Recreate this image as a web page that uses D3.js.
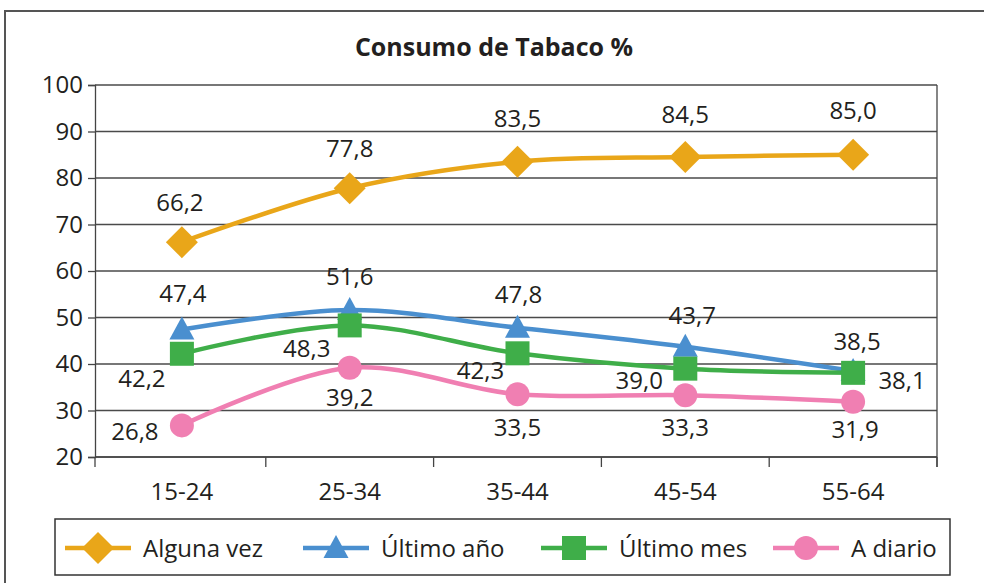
<!DOCTYPE html>
<html>
<head>
<meta charset="utf-8">
<script src="https://cdn.jsdelivr.net/npm/d3@7"></script>
<style>
  body { margin: 0; background: #fff; }
  text { font-family: "Open Sans", "Noto Sans", sans-serif; fill: #231f20; }
</style>
</head>
<body>
<div id="chart"></div>
<script>
var svgWidth = 984;
var svgHeight = 583;

// data
var categories = ["15-24", "25-34", "35-44", "45-54", "55-64"];
var seriesNames = ["Alguna vez", "Último año", "Último mes", "A diario"];
var algunaVez = [66.2, 77.8, 83.5, 84.5, 85.0];
var ultimoAno = [47.4, 51.6, 47.8, 43.7, 38.5];
var ultimoMes = [42.2, 48.3, 42.3, 39.0, 38.1];
var aDiario = [26.8, 39.2, 33.5, 33.3, 31.9];
var yTicks = [20, 30, 40, 50, 60, 70, 80, 90, 100];

var colors = ["#e9a619", "#4a8fcf", "#3fae49", "#f07fb2"];
var shapes = ["diamond", "triangle", "square", "circle"];

// label offsets (dx, dy) from each marker, as placed in the original
var labelOffsets = [
  [[-2, -40], [0, -40], [0, -43], [0, -43], [0, -44]],
  [[1, -36], [0, -34], [1, -33], [7, -31], [4, -30]],
  [[-40, 25], [-43, 23], [-37, 17], [-46, 12], [49, 8]],
  [[-47, 6], [0, 30], [0, 33], [0, 32], [2, 28]]
];

var series = [algunaVez, ultimoAno, ultimoMes, aDiario];
var fontSize = "24px";

var svg = d3.select("#chart")
  .append("svg")
  .attr("width", svgWidth)
  .attr("height", svgHeight);

// outer frame (only top and left edges fall inside the picture)
svg.append("path")
  .attr("d", "M5,583V11H984")
  .attr("fill", "none")
  .attr("stroke", "#555")
  .attr("stroke-width", 2);

// title
svg.append("text")
  .attr("x", 494)
  .attr("y", 56)
  .attr("text-anchor", "middle")
  .style("font-size", "25px")
  .style("font-weight", "bold")
  .text("Consumo de Tabaco %");

var plotLeft = 95, plotRight = 937, plotTop = 85, plotBottom = 457;

var xScale = d3.scaleBand()
  .domain(categories)
  .range([98, plotRight]);

var yScale = d3.scaleLinear()
  .domain([20, 100])
  .range([plotBottom, plotTop]);

var chartGroup = svg.append("g");

// gridlines
chartGroup.selectAll(".grid")
  .data(yTicks)
  .enter()
  .append("line")
  .attr("x1", plotLeft)
  .attr("x2", plotRight)
  .attr("y1", d => yScale(d))
  .attr("y2", d => yScale(d))
  .attr("stroke", "#4a4a4a")
  .attr("stroke-width", 1.3);

// right edge of plot
chartGroup.append("line")
  .attr("x1", plotRight).attr("x2", plotRight)
  .attr("y1", plotTop).attr("y2", plotBottom + 10)
  .attr("stroke", "#444")
  .attr("stroke-width", 1.3);

// y axis
var leftAxis = d3.axisLeft(yScale)
  .tickValues(yTicks)
  .tickSize(7)
  .tickPadding(5);

var yAxis = chartGroup.append("g")
  .attr("transform", `translate(${plotLeft}, 0)`)
  .call(leftAxis);
yAxis.select(".domain").attr("stroke", "#444").attr("stroke-width", 1.3);
yAxis.selectAll(".tick line").attr("stroke", "#444").attr("stroke-width", 1.3);
yAxis.selectAll(".tick text")
  .style("font-size", fontSize)
  .attr("fill", "#231f20")
  .style("font-family", "'Open Sans', sans-serif");

// x axis
var xAxis = chartGroup.append("g")
  .attr("transform", `translate(0, ${plotBottom})`);
xAxis.append("line")
  .attr("x1", plotLeft).attr("x2", plotRight)
  .attr("stroke", "#444").attr("stroke-width", 1.3);
var bounds = [plotLeft].concat(categories.map(c => xScale(c) + xScale.bandwidth()));
xAxis.selectAll(".xtick")
  .data(bounds)
  .enter()
  .append("line")
  .attr("x1", d => d).attr("x2", d => d)
  .attr("y1", 0).attr("y2", 10)
  .attr("stroke", "#444").attr("stroke-width", 1.3);
xAxis.selectAll(".xlabel")
  .data(categories)
  .enter()
  .append("text")
  .attr("x", d => xScale(d) + xScale.bandwidth() / 2)
  .attr("y", 43)
  .attr("text-anchor", "middle")
  .style("font-size", fontSize)
  .text(d => d);

function cx(i) { return xScale(categories[i]) + xScale.bandwidth() / 2; }

function drawMarker(g, shape, color, x, y) {
  if (shape === "diamond") {
    g.append("path")
      .attr("d", `M${x},${y - 16}L${x + 16},${y}L${x},${y + 16}L${x - 16},${y}Z`)
      .attr("fill", color);
  } else if (shape === "triangle") {
    g.append("path")
      .attr("d", `M${x},${y - 13}L${x + 12.5},${y + 10}L${x - 12.5},${y + 10}Z`)
      .attr("fill", color);
  } else if (shape === "square") {
    g.append("rect")
      .attr("x", x - 12).attr("y", y - 12)
      .attr("width", 24).attr("height", 24)
      .attr("fill", color);
  } else {
    g.append("circle")
      .attr("cx", x).attr("cy", y).attr("r", 12)
      .attr("fill", color);
  }
}

var line = d3.line()
  .x((d, i) => cx(i))
  .y(d => yScale(d))
  .curve(d3.curveCatmullRom.alpha(0.5));

// lines first, then markers
series.forEach(function(values, s) {
  chartGroup.append("path")
    .datum(values)
    .attr("d", line)
    .attr("fill", "none")
    .attr("stroke", colors[s])
    .attr("stroke-width", 4.5)
    .attr("stroke-linejoin", "round");
});

series.forEach(function(values, s) {
  var g = chartGroup.append("g");
  values.forEach(function(v, i) {
    drawMarker(g, shapes[s], colors[s], cx(i), yScale(v));
  });
});

// data labels
series.forEach(function(values, s) {
  chartGroup.append("g")
    .selectAll("text")
    .data(values)
    .enter()
    .append("text")
    .attr("x", (d, i) => cx(i) + labelOffsets[s][i][0])
    .attr("y", (d, i) => yScale(d) + labelOffsets[s][i][1])
    .attr("dy", "0.36em")
    .attr("text-anchor", "middle")
    .style("font-size", fontSize)
    .text(d => d3.format(".1f")(d).replace(".", ","));
});

// legend
var legend = svg.append("g");
legend.append("rect")
  .attr("x", 55).attr("y", 519)
  .attr("width", 895).attr("height", 56)
  .attr("fill", "#fff")
  .attr("stroke", "#333")
  .attr("stroke-width", 1.5);

var legendX = [65, 303, 541, 773];
seriesNames.forEach(function(name, s) {
  var x0 = legendX[s];
  var ly = 548;
  legend.append("line")
    .attr("x1", x0).attr("x2", x0 + 66)
    .attr("y1", ly).attr("y2", ly)
    .attr("stroke", colors[s])
    .attr("stroke-width", 4.5);
  drawMarker(legend, shapes[s], colors[s], x0 + 33, ly);
  legend.append("text")
    .attr("x", x0 + 78)
    .attr("y", ly)
    .attr("dy", "0.36em")
    .style("font-size", fontSize)
    .text(name);
});
</script>
</body>
</html>
